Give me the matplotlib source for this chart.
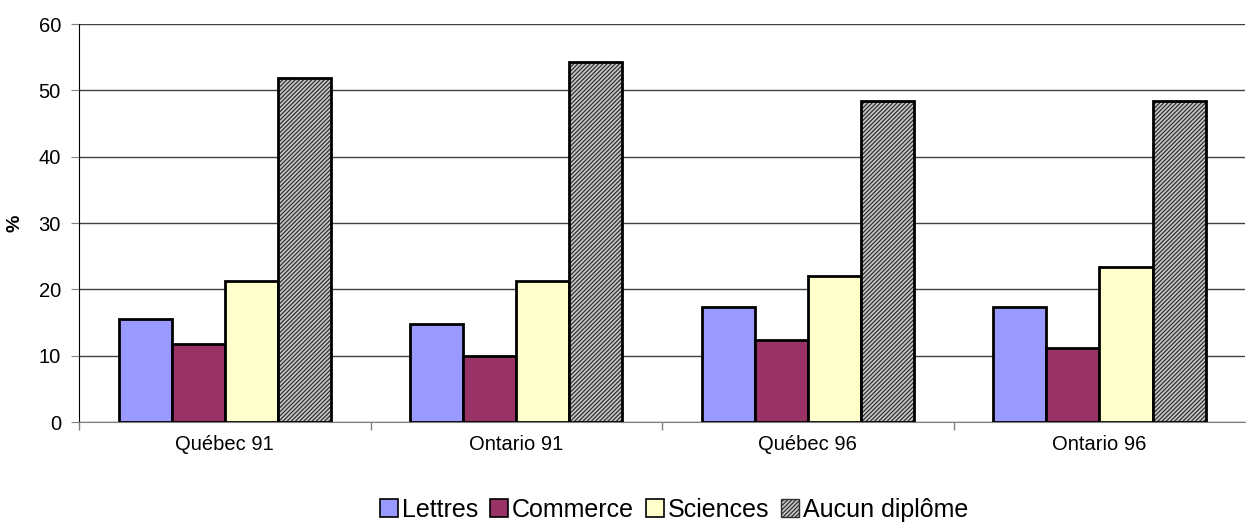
import numpy as np
import matplotlib
matplotlib.use("Agg")
import matplotlib.pyplot as plt
from matplotlib.patches import Patch

# Répartition par domaine de diplôme, en pourcentage
regions = ["Québec 91", "Ontario 91", "Québec 96", "Ontario 96"]
series = ["Lettres", "Commerce", "Sciences", "Aucun diplôme"]
lettres = [15.5, 14.8, 17.3, 17.3]
commerce = [11.7, 10.0, 12.4, 11.2]
sciences = [21.3, 21.3, 22.0, 23.4]
aucun = [51.9, 54.3, 48.4, 48.4]

colors = ["#9999ff", "#993366", "#ffffcc", "#c8c8c8"]

plt.rcParams["font.family"] = ["Liberation Sans", "DejaVu Sans"]
plt.rcParams["hatch.linewidth"] = 0.9

fig = plt.figure(figsize=(12.46, 5.23), dpi=100)
ax = fig.add_axes([0.0634, 0.193, 0.936, 0.761])

x = np.arange(len(regions))
width = 0.182
values = [lettres, commerce, sciences, aucun]
for i, vals in enumerate(values):
    pos = x + (i - 1.5) * width
    if i == 3:
        # motif hachuré fin pour "Aucun diplôme"
        ax.bar(pos, vals, width, color=colors[3], edgecolor="#303030",
               hatch="////////", linewidth=0, zorder=3)
        ax.bar(pos, vals, width, fill=False, edgecolor="black",
               linewidth=2, zorder=4)
    else:
        ax.bar(pos, vals, width, color=colors[i], edgecolor="black",
               linewidth=2, zorder=3)

ax.set_xlim(-0.5, len(regions) - 0.5)
ax.set_ylim(0, 60)
ax.set_yticks(range(0, 61, 10))
ax.yaxis.grid(True, color="#404040", linewidth=1)
ax.set_axisbelow(True)

ax.set_xticks(x)
ax.set_xticklabels(regions, fontsize=14.5)
ax.tick_params(axis="x", length=0, pad=9)
ax.set_xticks(np.arange(-0.5, len(regions) - 0.5, 1), minor=True)
ax.tick_params(axis="x", which="minor", length=6, color="#808080", width=1)
ax.tick_params(axis="y", labelsize=14.5, length=6, color="#808080", pad=7)

ax.spines["top"].set_visible(False)
ax.spines["right"].set_visible(False)
ax.spines["left"].set_color("black")
ax.spines["bottom"].set_color("#808080")

ax.set_ylabel("%", fontsize=14, fontweight="bold", labelpad=11)

handles = []
for i, name in enumerate(series):
    if i == 3:
        handles.append(Patch(facecolor=colors[3], edgecolor="#303030",
                             hatch="////////", label=name))
    else:
        handles.append(Patch(facecolor=colors[i], edgecolor="black",
                             linewidth=1.2, label=name))
fig.legend(handles=handles, loc="center", bbox_to_anchor=(0.541, 0.025),
           ncol=4, frameon=False, fontsize=18, handlelength=0.7,
           handleheight=0.7, handletextpad=0.15, columnspacing=0.5)

fig.savefig("out.png", dpi=100)
